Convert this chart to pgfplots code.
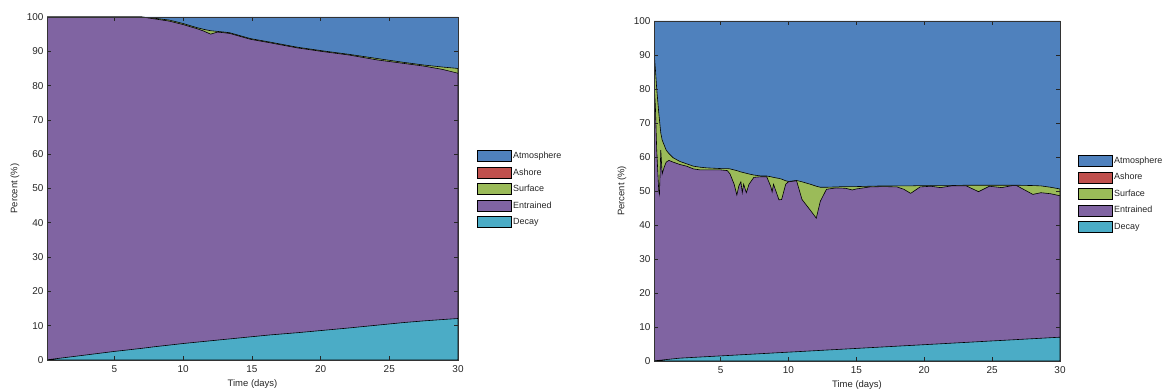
\documentclass[border=0pt]{standalone}
\usepackage{pgfplots}
\pgfplotsset{compat=1.18}
\usepackage{pgfplotstable}
\usepackage{fontspec}
\setmainfont{Liberation Sans}
\definecolor{atmos}{RGB}{79,129,189}
\definecolor{ashore}{RGB}{192,80,77}
\definecolor{surf}{RGB}{155,187,89}
\definecolor{entr}{RGB}{128,100,162}
\definecolor{decay}{RGB}{75,172,198}

% cumulative boundaries: D = Decay top, P = Entrained top, G = Surface top, T = total
\pgfplotstableread{
t D P G T
0 0 100 100 100
1 0.5 100 100 100
2 1.0 100 100 100
3 1.5 100 100 100
4 2.0 100 100 100
5 2.5 100 100 100
6 2.95 100 100 100
7 3.4 100 100 100
8 3.9 99.4 99.6 100
9 4.35 98.8 99.1 100
10 4.8 97.8 98.1 100
11 5.2 96.6 96.9 100
11.5 5.4 95.9 96.4 100
12 5.6 95.0 96.0 100
12.5 5.8 95.6 95.8 100
13 6.0 95.4 95.6 100
13.4 6.15 95.2 95.4 100
14.9 6.75 93.5 93.7 100
16.3 7.3 92.5 92.7 100
18.3 7.95 91.0 91.2 100
20.2 8.65 89.9 90.1 100
22.1 9.35 88.9 89.1 100
24.1 10.15 87.5 87.9 100
26 10.9 86.5 86.8 100
27.5 11.4 85.7 86.0 100
28.9 11.8 84.7 85.4 100
30 12.1 83.6 85.0 100
}\lefttab

\pgfplotstableread{
t D P G T
0 0 94 100 100
0.1 0.04 82 91 100
0.2 0.08 75 86 100
0.3 0.13 62 80 100
0.45 0.19 50 73 100
0.5 0.21 49 71 100
0.6 0.25 62 67 100
0.7 0.29 55 65 100
0.85 0.36 57 63.5 100
1.0 0.42 58.5 62 100
1.2 0.5 59 61 100
1.5 0.63 58.5 59.8 100
2.0 0.84 57.8 58.7 100
2.5 0.95 57.3 58 100
3.0 1.06 56.5 57.3 100
3.5 1.17 56.2 57 100
4.0 1.28 56.2 56.8 100
5.0 1.5 56.2 56.6 100
5.5 1.61 56 56.6 100
5.7 1.65 55 56.5 100
6.0 1.72 52 56.2 100
6.2 1.76 48.8 56 100
6.35 1.8 51.5 55.8 100
6.5 1.83 52.7 55.6 100
6.6 1.85 49.5 55.5 100
6.7 1.87 52 55.4 100
6.9 1.92 49.5 55.2 100
7.1 1.96 52 55 100
7.45 2.04 54 54.7 100
8.0 2.16 54.2 54.4 100
8.4 2.25 54.2 54.4 100
8.7 2.31 51.3 54.2 100
8.8 2.34 49.7 54.1 100
8.9 2.36 52 54 100
9.3 2.45 47.4 53.7 100
9.5 2.49 47.5 53.5 100
9.8 2.56 52 53 100
10.0 2.6 52.7 52.8 100
10.6 2.73 53 53.1 100
11.0 2.82 47.5 52.7 100
11.6 2.95 44.4 52 100
12.05 3.05 42 51.4 100
12.35 3.12 47 51.1 100
12.8 3.22 50.5 51.1 100
13.5 3.37 50.9 51.2 100
14.2 3.52 50.8 51.3 100
14.7 3.63 50.3 51.3 100
15.0 3.7 50.6 51.3 100
16.0 3.92 51.2 51.4 100
17.0 4.14 51.3 51.5 100
18.0 4.36 51.2 51.5 100
18.5 4.47 50.5 51.5 100
19.0 4.58 49.3 51.5 100
19.7 4.73 51.2 51.6 100
20.5 4.91 51.4 51.6 100
21.2 5.06 51.0 51.6 100
22.0 5.24 51.5 51.6 100
23.1 5.48 51.5 51.7 100
24.0 5.68 49.8 51.7 100
24.8 5.86 51.4 51.7 100
25.7 6.05 51.0 51.7 100
26.5 6.23 51.6 51.7 100
26.8 6.3 51.6 51.7 100
28.0 6.56 49.0 51.6 100
28.6 6.69 49.5 51.5 100
29.3 6.85 49.2 51.1 100
30.0 7.0 48.6 50.6 100
}\righttab

\pgfplotsset{
  oilstyle/.style={
    scale only axis,
    xmin=0.1, xmax=30, ymin=0, ymax=100,
    xtick={5,10,...,30}, ytick={0,10,...,100},
    tick align=inside, major tick length=4bp,
    xtick pos=both, ytick pos=both,
    axis on top=true,
    axis line style={black!80, line width=0.6bp},
    every tick/.style={black!85, line width=0.6bp},
    /pgf/number format/assume math mode=true,
    tick label style={font=\fontsize{10}{12}\selectfont, text=black!85},
    xticklabel style={yshift=-2.5bp},
    label style={font=\fontsize{9.5}{11}\selectfont, text=black!85},
    xlabel={Time (days)}, ylabel={Percent (\%)},
    xlabel style={at={(axis description cs:0.5,0)}, anchor=center, yshift=-24bp},
    ylabel style={at={([xshift=-32bp]axis description cs:0,0.5)}, anchor=center},
    legend image code/.code={\draw[#1, draw=black, line width=0.5bp] (0bp,-5.5bp) rectangle (34bp,5.5bp);},
    legend style={draw=none, fill=none, inner sep=0pt, row sep=5bp,
      font=\fontsize{9}{10}\selectfont, text=black!85,
      nodes={inner xsep=1.5bp, inner ysep=0pt}},
    legend cell align=left,
    edge/.style={draw=black, line width=0.6bp},
  }
}

\begin{document}
\begin{tikzpicture}
\path[use as bounding box] (0,0) rectangle (1165bp,392bp);

\begin{axis}[oilstyle, at={(47bp,32bp)}, anchor=south west, width=411bp, height=343bp,
  legend style={at={(rel axis cs:1.046,0.612)}, anchor=north west}]
\addplot[fill=atmos, edge] table[x=t, y=T] {\lefttab} \closedcycle;
\addlegendentry{Atmosphere}
\addlegendimage{fill=ashore}
\addlegendentry{Ashore}
\addplot[fill=surf, edge] table[x=t, y=G] {\lefttab} \closedcycle;
\addlegendentry{Surface}
\addplot[fill=entr, edge] table[x=t, y=P] {\lefttab} \closedcycle;
\addlegendentry{Entrained}
\addplot[fill=decay, edge] table[x=t, y=D] {\lefttab} \closedcycle;
\addlegendentry{Decay}
\end{axis}

\begin{axis}[oilstyle, at={(654bp,31bp)}, anchor=south west, width=406bp, height=340bp,
  legend style={at={(rel axis cs:1.044,0.606)}, anchor=north west}]
\addplot[fill=atmos, edge] table[x=t, y=T] {\righttab} \closedcycle;
\addlegendentry{Atmosphere}
\addlegendimage{fill=ashore}
\addlegendentry{Ashore}
\addplot[fill=surf, edge] table[x=t, y=G] {\righttab} \closedcycle;
\addlegendentry{Surface}
\addplot[fill=entr, edge] table[x=t, y=P] {\righttab} \closedcycle;
\addlegendentry{Entrained}
\addplot[fill=decay, edge] table[x=t, y=D] {\righttab} \closedcycle;
\addlegendentry{Decay}
\end{axis}
\end{tikzpicture}
\end{document}
